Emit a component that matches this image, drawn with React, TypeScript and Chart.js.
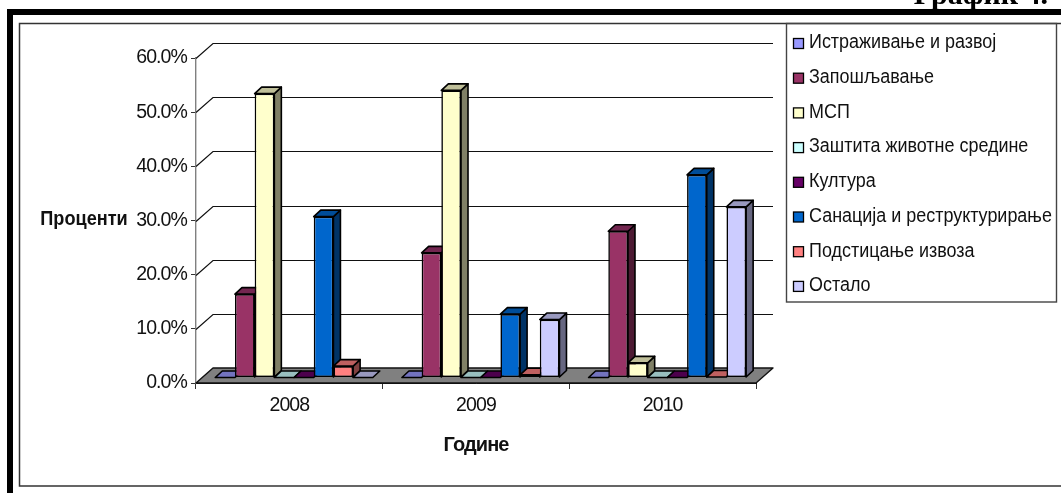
import React, { useEffect, useRef } from "react";
import { Chart, registerables } from "chart.js";

Chart.register(...registerables);

const years = ["2008", "2009", "2010"];
const seriesNames = [
  "Истраживање и развој",
  "Запошљавање",
  "МСП",
  "Заштита животне средине",
  "Култура",
  "Санација и реструктурирање",
  "Подстицање извоза",
  "Остало",
];
const research = [0, 0, 0];
const employment = [15.4, 23.0, 27.0];
const sme = [52.4, 53.0, 2.7];
const environment = [0, 0, 0];
const culture = [0, 0, 0];
const restructuring = [29.7, 11.7, 37.4];
const exportAid = [2.1, 0.5, 0.1];
const other = [0, 10.7, 31.5];
const allSeries = [research, employment, sme, environment, culture, restructuring, exportAid, other];

const fronts = ["#9999FF", "#993366", "#FFFFCC", "#CCFFFF", "#660066", "#0066CC", "#FF8080", "#CCCCFF"];
const tops = ["#7373BF", "#732650", "#BFBF99", "#99BFBF", "#4D004D", "#004D99", "#BF6060", "#9999BF"];
const sides = ["#4D4D80", "#4D1A33", "#808066", "#668080", "#330033", "#003366", "#804040", "#666680"];

const SANS = "'Liberation Sans', Arial, sans-serif";
const LEFT = 196, RIGHT = 756, TOP = 58, BOTTOM = 383;
const BACK_X = 17, BACK_Y = -15;
const SHIFT_X = 4.7, SHIFT_Y = -5.5;
const DEPTH_X = 7, DEPTH_Y = -6.5;
const OUTLINE = 1.6;

function poly(ctx: CanvasRenderingContext2D, pts: number[][], fill: string | null, stroke: string, lw = 1) {
  ctx.beginPath();
  pts.forEach((p, i) => (i ? ctx.lineTo(p[0], p[1]) : ctx.moveTo(p[0], p[1])));
  ctx.closePath();
  if (fill) { ctx.fillStyle = fill; ctx.fill(); }
  ctx.strokeStyle = stroke; ctx.lineWidth = lw; ctx.lineJoin = "round"; ctx.stroke();
}

function squeezedText(c: CanvasRenderingContext2D, text: string, x: number, y: number, k: number) {
  c.save();
  c.translate(x, y);
  c.scale(k, 1);
  c.fillText(text, 0, 0);
  c.restore();
}

const scene = {
  id: "scene3d",
  beforeDraw(chart: any) {
    const c: any = chart.ctx;
    c.save();
    c.fillStyle = "#fff";
    c.fillRect(0, 0, chart.width, chart.height);
    c.fillStyle = "#000";
    c.fillRect(7, 9, 1054, 6);
    c.fillRect(7, 9, 6, 484);
    c.strokeStyle = "#333";
    c.lineWidth = 1.5;
    c.beginPath();
    c.moveTo(1061, 23.5); c.lineTo(19.5, 23.5); c.lineTo(19.5, 486); c.lineTo(1061, 486);
    c.stroke();
    c.fillStyle = "#000";
    c.font = "bold 30px 'Liberation Serif', serif";
    c.textAlign = "right";
    c.textBaseline = "alphabetic";
    c.fillText("График 4.", 1048, 4);
    c.restore();
    c.letterSpacing = "-0.9px";
  },
  beforeDatasetsDraw(chart: any) {
    const c: CanvasRenderingContext2D = chart.ctx;
    const y = chart.scales.y;
    const x0 = chart.chartArea.left, x1 = chart.chartArea.right;
    c.save();
    c.strokeStyle = "#111";
    c.lineWidth = 1.2;
    y.ticks.forEach((t: any) => {
      if (t.value === 0) return;
      const py = Math.round(y.getPixelForValue(t.value)) + 0.5;
      c.beginPath();
      c.moveTo(x0, py);
      c.lineTo(x0 + BACK_X, py + BACK_Y);
      c.lineTo(x1 + BACK_X, py + BACK_Y);
      c.stroke();
    });
    const b = y.getPixelForValue(0);
    poly(c, [[x0, b], [x1, b], [x1 + BACK_X, b + BACK_Y], [x0 + BACK_X, b + BACK_Y]], "#808080", "#111", 1.4);
    c.restore();
  },
  beforeDatasetDraw() {
    return false;
  },
  afterDatasetsDraw(chart: any) {
    const c: CanvasRenderingContext2D = chart.ctx;
    chart.data.datasets.forEach((_: any, i: number) => {
      chart.getDatasetMeta(i).data.forEach((bar: any) => {
        const { x, y, base, width } = bar;
        const l = x - width / 2, r = x + width / 2;
        c.save();
        c.translate(SHIFT_X, SHIFT_Y);
        if (base - y > 0.5) {
          poly(c, [[r, y], [r + DEPTH_X, y + DEPTH_Y], [r + DEPTH_X, base + DEPTH_Y], [r, base]], sides[i], "#000", OUTLINE);
        }
        poly(c, [[l, y], [r, y], [r + DEPTH_X, y + DEPTH_Y], [l + DEPTH_X, y + DEPTH_Y]], tops[i], "#000", OUTLINE);
        if (base - y > 0.5) bar.draw(c, chart.chartArea);
        c.restore();
      });
    });
  },
  afterDraw(chart: any) {
    const c: any = chart.ctx;
    c.save();
    c.letterSpacing = "0px";
    c.font = "bold 19.5px " + SANS;
    c.fillStyle = "#111";
    c.textAlign = "center";
    c.textBaseline = "middle";
    squeezedText(c, "Проценти", 84, 220, 0.93);
    c.strokeStyle = "#444";
    c.lineWidth = 1.4;
    c.strokeRect(786.5, 23.5, 270, 278.5);
    c.font = "19.5px " + SANS;
    c.textAlign = "left";
    chart.data.datasets.forEach((ds: any, i: number) => {
      const cy = 43 + i * 34.7;
      c.fillStyle = fronts[i];
      c.strokeStyle = "#000";
      c.lineWidth = 1.3;
      c.fillRect(793.5, cy - 4.5, 10, 10);
      c.strokeRect(793.5, cy - 4.5, 10, 10);
      c.fillStyle = "#111";
      squeezedText(c, ds.label, 809, cy, 0.92);
    });
    c.restore();
  },
};

export default function App() {
  const ref = useRef<HTMLCanvasElement>(null);
  useEffect(() => {
    const chart = new Chart(ref.current!, {
      type: "bar",
      data: {
        labels: years,
        datasets: seriesNames.map((label, i) => ({
          label,
          data: allSeries[i],
          backgroundColor: fronts[i],
          borderColor: "#000",
          borderWidth: OUTLINE,
          borderSkipped: false,
          categoryPercentage: 0.844,
          barPercentage: 1,
        })),
      },
      options: {
        responsive: false,
        animation: false,
        devicePixelRatio: 1,
        layout: { autoPadding: false, padding: { left: 0, top: TOP, right: 1061 - RIGHT, bottom: 36 } },
        plugins: { legend: { display: false }, tooltip: { enabled: false } },
        scales: {
          x: {
            afterFit: (s: any) => { s.height = 493 - 36 - BOTTOM; },
            grid: { drawOnChartArea: false, drawTicks: true, tickLength: 6, color: "#333", offset: true },
            border: { color: "#111" },
            ticks: { color: "#111", font: { family: SANS, size: 19.5 }, padding: 5, maxRotation: 0 },
            title: { display: true, text: "Године", color: "#111", font: { family: SANS, size: 20, weight: "bold" }, padding: 0 },
          },
          y: {
            min: 0,
            max: 60,
            afterFit: (s: any) => { s.width = LEFT; },
            grid: { drawOnChartArea: false, drawTicks: true, tickLength: 5, color: "#333" },
            border: { color: "#808080", width: 1.4 },
            ticks: {
              stepSize: 10,
              color: "#111",
              padding: 4,
              font: { family: SANS, size: 19.5 },
              callback: (v: any) => Number(v).toFixed(1) + "%",
            },
          },
        },
      },
      plugins: [scene],
    } as any);
    return () => chart.destroy();
  }, []);
  return (
    <canvas
      ref={ref}
      width={1061}
      height={493}
      style={{ position: "absolute", left: 0, top: 0, width: 1061, height: 493, display: "block" }}
    />
  );
}
